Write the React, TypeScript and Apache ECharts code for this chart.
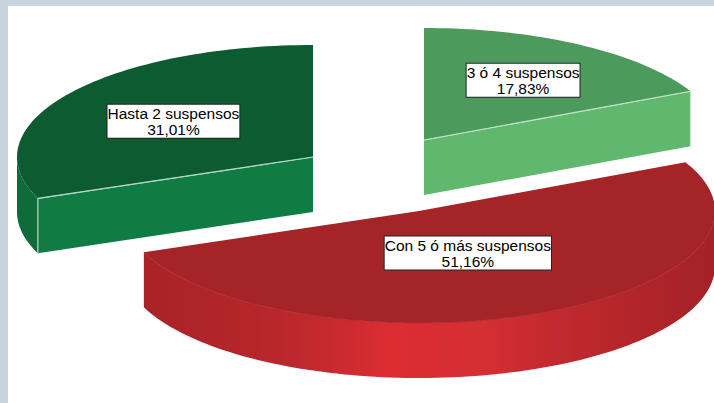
import React, { useEffect, useRef } from "react";
import * as echarts from "echarts";

const categories = ["3 ó 4 suspensos", "Con 5 ó más suspensos", "Hasta 2 suspensos"];
const percentages = [17.83, 51.16, 31.01];
const percentLabels = ["17,83%", "51,16%", "31,01%"];

// Appearance and layout, kept apart from the data
const RX = 296;
const RY = 112;
const DEPTH = 55;
const apexX = [424, 419, 313];
const apexY = [140, 211, 157];
const labelReach = [0.63, 0.41, 0.57];
const topColors = ["#4c9a5c", "#a52428", "#0c5b31"];
const faceColors = ["#60b86f", "#a52428", "#0f7c43"];
const redWall = {
  type: "linear", x: 0, y: 0, x2: 1, y2: 0,
  colorStops: [
    { offset: 0, color: "#a92327" },
    { offset: 0.2, color: "#b5262a" },
    { offset: 0.33, color: "#c62a2f" },
    { offset: 0.43, color: "#dc2d33" },
    { offset: 0.6, color: "#d42e33" },
    { offset: 0.72, color: "#c2292e" },
    { offset: 0.86, color: "#b2252a" },
    { offset: 1, color: "#a32226" },
  ],
};
const wallColors: any[] = ["#4c9a5c", redWall, "#0d6c39"];
const edgeColors = ["#c4e3c9", "#a52428", "#b5d6bf"];
const rimColors = [null, "#b32b2f", null];

const rad = (d: number) => (d * Math.PI) / 180;

function rim(cx: number, cy: number, from: number, to: number, dy = 0) {
  const pts: number[][] = [];
  const n = Math.max(2, Math.ceil(Math.abs(to - from) / 1.5));
  for (let i = 0; i <= n; i++) {
    const t = rad(from + ((to - from) * i) / n);
    pts.push([cx + RX * Math.sin(t), cy - RY * Math.cos(t) + dy]);
  }
  return pts;
}

function renderSlice(params: any, api: any) {
  const i = params.dataIndex;
  const total = percentages.reduce((a, b) => a + b, 0);
  const before = percentages.slice(0, i).reduce((a, b) => a + b, 0);
  const start = (before / total) * 360;
  const end = start + (api.value(1) / total) * 360;
  const cx = apexX[i];
  const cy = apexY[i];
  const children: any[] = [];

  // outer wall: only the part of the rim that faces the viewer
  const wallFrom = Math.max(start, 90);
  const wallTo = Math.min(end, 270);
  if (wallTo > wallFrom) {
    const upper = rim(cx, cy, wallFrom, wallTo);
    const lower = rim(cx, cy, wallFrom, wallTo, DEPTH).reverse();
    children.push({
      type: "polygon",
      shape: { points: upper.concat(lower) },
      style: { fill: wallColors[i], stroke: null },
    });
  }

  // cut faces visible from the front
  const faces: number[] = [];
  if (Math.sin(rad(end)) > 0.01) faces.push(end);
  if (-Math.sin(rad(start)) > 0.01) faces.push(start);
  faces.forEach((a) => {
    const [p] = rim(cx, cy, a, a);
    children.push({
      type: "polygon",
      shape: { points: [[cx, cy], p, [p[0], p[1] + DEPTH], [cx, cy + DEPTH]] },
      style: { fill: faceColors[i], stroke: null },
    });
    children.push({
      type: "polyline",
      shape: { points: [[cx, cy], p, [p[0], p[1] + DEPTH]] },
      style: { fill: null, stroke: edgeColors[i], lineWidth: 1.2 },
    });
  });

  // top surface
  children.push({
    type: "polygon",
    shape: { points: [[cx, cy] as number[]].concat(rim(cx, cy, start, end)) },
    style: { fill: topColors[i], stroke: null },
  });
  if (rimColors[i] && wallTo > wallFrom) {
    children.push({
      type: "polyline",
      shape: { points: rim(cx, cy, wallFrom, wallTo) },
      style: { fill: null, stroke: rimColors[i], lineWidth: 1 },
    });
  }
  faces.forEach((a) => {
    const [p] = rim(cx, cy, a, a);
    children.push({
      type: "line",
      shape: { x1: cx, y1: cy, x2: p[0], y2: p[1] },
      style: { stroke: edgeColors[i], lineWidth: 1.2 },
    });
  });

  // label box
  const mid = rad((start + end) / 2);
  children.push({
    type: "text",
    x: cx + RX * Math.sin(mid) * labelReach[i],
    y: cy - RY * Math.cos(mid) * labelReach[i],
    z2: 10,
    style: {
      text: categories[i] + "\n" + percentLabels[i],
      font: '15.5px "Liberation Sans", Arial, sans-serif',
      lineHeight: 16,
      fill: "#000",
      align: "center",
      verticalAlign: "middle",
      backgroundColor: "#fff",
      borderColor: "#222",
      borderWidth: 1,
      padding: [0, 0, 1, 0],
    },
  });
  return { type: "group", children };
}

export default function App() {
  const ref = useRef<HTMLDivElement>(null);
  useEffect(() => {
    document.body.style.margin = "0";
    const chart = echarts.init(ref.current!, null, { renderer: "svg" });
    chart.setOption({
      animation: false,
      backgroundColor: "#ffffff",
      graphic: [
        { type: "rect", z: -1, shape: { x: 0, y: 0, width: 714, height: 6 }, style: { fill: "#c8d4dc" } },
        { type: "rect", z: -1, shape: { x: 0, y: 0, width: 8, height: 403 }, style: { fill: "#c8d4dc" } },
      ],
      series: [
        {
          type: "custom",
          coordinateSystem: "none",
          silent: true,
          renderItem: renderSlice,
          data: categories.map((c, i) => ({ name: c, value: [i, percentages[i]] })),
        },
      ],
    });
    return () => chart.dispose();
  }, []);
  return <div ref={ref} style={{ width: 714, height: 403 }} />;
}
